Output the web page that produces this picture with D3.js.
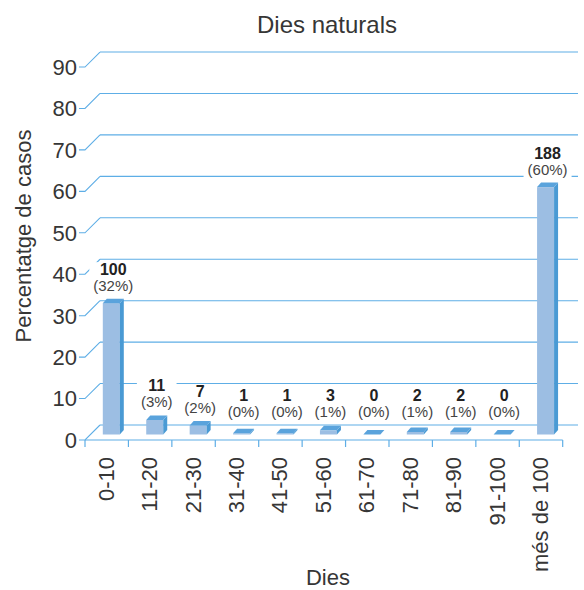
<!DOCTYPE html>
<html>
<head>
<meta charset="utf-8">
<script src="https://cdn.jsdelivr.net/npm/d3@7"></script>
<style>
  html, body { margin: 0; padding: 0; background: #fff; }
  svg { display: block; font-family: "Liberation Sans", Arial, sans-serif; }
</style>
</head>
<body>
<svg id="chart" width="584" height="590"></svg>
<script>
// ---- data ----
const categories = ["0-10", "11-20", "21-30", "31-40", "41-50", "51-60", "61-70", "71-80", "81-90", "91-100", "més de 100"];
const counts = [100, 11, 7, 1, 1, 3, 0, 2, 2, 0, 188];
const percents = [31.7, 3.5, 2.2, 0.3, 0.3, 1.0, 0, 0.6, 0.6, 0, 59.7];
const percentLabels = ["(32%)", "(3%)", "(2%)", "(0%)", "(0%)", "(1%)", "(0%)", "(1%)", "(1%)", "(0%)", "(60%)"];
const yTicks = [0, 10, 20, 30, 40, 50, 60, 70, 80, 90];

// ---- layout ----
const svg = d3.select("#chart");
const textColor = "#363636";
const gridColor = "#5eaee6";
const frontColor = "#9cbee3";
const topColor = "#5aa3dc";
const sideColor = "#4a9ad4";

const depthX = 15, depthY = -15;   // wall depth
const barDX = 4, barDY = -4.5;     // bar depth

const y = d3.scaleLinear().domain([0, 90]).range([440, 440 - 90 * 4.144]);
const yBar = d3.scaleLinear().domain([0, 90]).range([434.5, 434.5 - 90 * 4.144]);
const x = d3.scaleBand().domain(categories).range([85, 562.7]).paddingInner(0).paddingOuter(0);

// title
svg.append("text").attr("x", 327).attr("y", 33).attr("text-anchor", "middle")
  .attr("font-size", 24).attr("fill", textColor).text("Dies naturals");

// back-wall gridlines + left-wall diagonals
const grid = svg.append("g");
yTicks.forEach(v => {
  const fy = y(v), by = fy + depthY;
  grid.append("line").attr("x1", 85 + depthX).attr("x2", 578).attr("y1", by).attr("y2", by)
    .attr("stroke", gridColor).attr("stroke-width", 1.1);
  grid.append("polyline")
    .attr("points", `79,${fy} 85,${fy} ${85 + depthX},${by}`)
    .attr("fill", "none").attr("stroke", gridColor).attr("stroke-width", 1.1);
});

// y tick labels
svg.append("g").selectAll("text").data(yTicks).join("text")
  .attr("x", 77).attr("y", d => y(d)).attr("dy", "0.36em")
  .attr("text-anchor", "end").attr("font-size", 22).attr("fill", textColor)
  .text(d => d);

// front x axis
const xAxisG = svg.append("g").attr("transform", "translate(0,440)");
xAxisG.append("line").attr("x1", 85).attr("x2", 562.7).attr("y1", 0).attr("y2", 0)
  .attr("stroke", gridColor).attr("stroke-width", 1.2);
const edges = categories.map(c => x(c)).concat([x.range()[1]]);
xAxisG.selectAll("line.tick").data(edges).join("line").attr("class", "tick")
  .attr("x1", d => d).attr("x2", d => d).attr("y1", 0).attr("y2", 7)
  .attr("stroke", gridColor).attr("stroke-width", 1.2);

// x tick labels (rotated)
svg.append("g").selectAll("text").data(categories).join("text")
  .attr("transform", d => `translate(${x(d) + x.bandwidth() / 2 + 7},457) rotate(-90)`)
  .attr("text-anchor", "end").attr("font-size", 22).attr("fill", textColor)
  .text(d => d);

// bars
const bars = svg.append("g");
const faceOff = 17.8, faceW = 17;
categories.forEach((c, i) => {
  const x0 = x(c) + faceOff, x1 = x0 + faceW;
  const base = yBar(0), top = yBar(percents[i]);
  if (base - top > 0.2) {
    bars.append("rect").attr("x", x0).attr("y", top).attr("width", faceW).attr("height", base - top)
      .attr("fill", frontColor);
  }
  bars.append("polygon")
    .attr("points", `${x1},${top} ${x1 + barDX},${top + barDY} ${x1 + barDX},${base + barDY} ${x1},${base}`)
    .attr("fill", sideColor);
  bars.append("polygon")
    .attr("points", `${x0},${top} ${x1},${top} ${x1 + barDX},${top + barDY} ${x0 + barDX},${top + barDY}`)
    .attr("fill", topColor);
});

// data labels
const labels = svg.append("g");
categories.forEach((c, i) => {
  const cx = x(c) + faceOff + faceW / 2 + 2;
  const topBack = yBar(percents[i]) + barDY;
  const pctBase = Math.min(topBack - 8, 416.5);
  const cntBase = pctBase - 16;
  const g = labels.append("g");
  const rect = g.append("rect").attr("fill", "#fff");
  const t1 = g.append("text").attr("x", cx).attr("y", cntBase).attr("text-anchor", "middle")
    .attr("font-size", 16).attr("font-weight", "bold").attr("fill", "#222").text(counts[i]);
  const t2 = g.append("text").attr("x", cx).attr("y", pctBase).attr("text-anchor", "middle")
    .attr("font-size", 15).attr("fill", "#444").text(percentLabels[i]);
  const w = Math.max(t1.node().getComputedTextLength(), t2.node().getComputedTextLength()) + 8;
  rect.attr("x", cx - w / 2).attr("y", cntBase - 12.5).attr("width", w).attr("height", pctBase - cntBase + 16);
});

// axis titles
svg.append("text").attr("transform", "translate(31,236) rotate(-90)")
  .attr("text-anchor", "middle").attr("font-size", 22).attr("fill", textColor)
  .text("Percentatge de casos");
svg.append("text").attr("x", 328).attr("y", 585).attr("text-anchor", "middle")
  .attr("font-size", 22).attr("fill", textColor).text("Dies");
</script>
</body>
</html>
